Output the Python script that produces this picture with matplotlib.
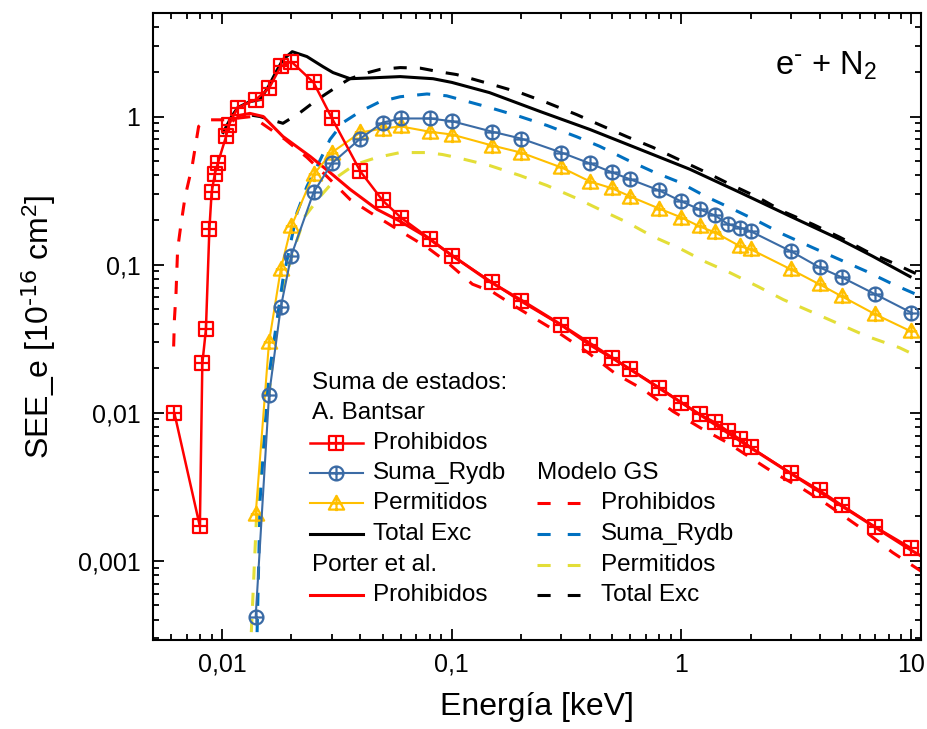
import matplotlib
matplotlib.use("Agg")
import matplotlib.pyplot as plt
from matplotlib.path import Path
from matplotlib.ticker import FixedLocator, LogLocator, FuncFormatter, NullFormatter

plt.rcParams.update({
    "font.family": ["Liberation Sans", "DejaVu Sans"],
    "mathtext.default": "regular",
    "axes.linewidth": 1.5,
})

# ---- data ----
# A. Bantsar, Prohibidos (red squares)
ban_pro_e = [0.0062, 0.0080, 0.0082, 0.0085, 0.0088, 0.0090, 0.0093, 0.0096, 0.0104, 0.0107,
             0.0117, 0.014, 0.016, 0.018, 0.020, 0.025, 0.030, 0.040, 0.050, 0.060, 0.080,
             0.100, 0.15, 0.2, 0.3, 0.4, 0.5, 0.6, 0.8, 1.0, 1.2, 1.4, 1.6, 1.8, 2.0, 3, 4, 5, 7, 10]
ban_pro_s = [0.0099, 0.00171, 0.0215, 0.0365, 0.173, 0.307, 0.412, 0.489, 0.733, 0.88,
             1.15, 1.30, 1.55, 2.18, 2.35, 1.70, 0.98, 0.426, 0.271, 0.208, 0.150,
             0.115, 0.0758, 0.0565, 0.0389, 0.0285, 0.0233, 0.0196, 0.0148, 0.0117, 0.00975,
             0.00861, 0.00749, 0.00661, 0.00585, 0.0039, 0.00299, 0.00237, 0.00169, 0.00122]

# A. Bantsar, Suma_Rydb (blue circles)
ban_ryd_e = [0.014, 0.016, 0.018, 0.020, 0.025, 0.030, 0.040, 0.050, 0.060, 0.080, 0.100,
             0.15, 0.2, 0.3, 0.4, 0.5, 0.6, 0.8, 1.0, 1.2, 1.4, 1.6, 1.8, 2.0, 3, 4, 5, 7, 10]
ban_ryd_s = [0.00042, 0.0131, 0.0514, 0.115, 0.307, 0.482, 0.71, 0.91, 0.97, 0.97, 0.93,
             0.79, 0.71, 0.571, 0.482, 0.419, 0.376, 0.317, 0.267, 0.236, 0.215, 0.187, 0.178,
             0.168, 0.123, 0.0957, 0.082, 0.063, 0.0475]

# A. Bantsar, Permitidos (yellow triangles)
ban_per_e = [0.014, 0.016, 0.018, 0.020, 0.025, 0.030, 0.040, 0.050, 0.060, 0.080, 0.100,
             0.15, 0.2, 0.3, 0.4, 0.5, 0.6, 0.8, 1.0, 1.2, 1.4, 1.8, 2.0, 3, 4, 5, 7, 10]
ban_per_s = [0.00206, 0.0299, 0.0928, 0.181, 0.406, 0.571, 0.78, 0.83, 0.857, 0.79, 0.756,
             0.637, 0.571, 0.453, 0.364, 0.327, 0.288, 0.239, 0.208, 0.181, 0.165, 0.133,
             0.127, 0.0928, 0.0735, 0.061, 0.0461, 0.0354]

# A. Bantsar, Total Exc (black solid)
ban_tot_e = [0.0101, 0.011, 0.0117, 0.0132, 0.0146, 0.0159, 0.0172, 0.0184, 0.0202, 0.0234,
             0.0275, 0.0304, 0.0361, 0.047, 0.0596, 0.0829, 0.100, 0.146, 0.243, 0.40, 0.66,
             1.09, 1.8, 2.98, 4.9, 6.8, 9.9]
ban_tot_s = [0.78, 1.0, 1.15, 1.26, 1.30, 1.59, 2.01, 2.42, 2.74, 2.54,
             2.17, 1.98, 1.80, 1.83, 1.86, 1.80, 1.70, 1.45, 1.08, 0.817, 0.60,
             0.44, 0.307, 0.212, 0.148, 0.114, 0.083]

# Porter et al., Prohibidos (red solid)
por_e = [0.0112, 0.012, 0.0132, 0.0151, 0.0184, 0.0242, 0.0295, 0.0361, 0.0473, 0.0596,
         0.078, 0.096, 0.146, 0.198, 0.297, 0.5, 1.0, 2.0, 5.0, 10.0, 11.5]
por_s = [0.94, 1.02, 1.05, 1.0, 0.733, 0.537, 0.419, 0.322, 0.236, 0.196,
         0.153, 0.121, 0.077, 0.0583, 0.0396, 0.0235, 0.0117, 0.0058, 0.00234, 0.00118, 0.00104]

# Modelo GS (dashed)
gs_pro_e = [0.00615, 0.0062, 0.0063, 0.0064, 0.0066, 0.0069, 0.0074, 0.0079, 0.0087, 0.0095,
            0.0105, 0.012, 0.0135, 0.0188, 0.0234, 0.0286, 0.0361, 0.0441, 0.061, 0.078, 0.096,
            0.123, 0.151, 0.198, 0.29, 0.39, 0.52, 0.68, 0.92, 1.24, 1.58, 2.5, 3.4, 4.3, 5.9,
            8.3, 11.2]
gs_pro_s = [0.028, 0.043, 0.065, 0.127, 0.181, 0.288, 0.46, 0.857, 0.95, 0.95,
            0.95, 0.98, 1.0, 0.70, 0.53, 0.394, 0.275, 0.225, 0.165, 0.131, 0.103,
            0.0738, 0.0652, 0.0499, 0.0349, 0.0256, 0.0182, 0.0144, 0.0102, 0.00773, 0.0063,
            0.00397, 0.00304, 0.00241, 0.00171, 0.00114, 0.00084]

gs_ryd_e = [0.0142, 0.01464, 0.0159, 0.0184, 0.0212, 0.0234, 0.0259, 0.0295, 0.0336, 0.0399,
            0.0487, 0.0596, 0.078, 0.095, 0.146, 0.198, 0.26, 0.35, 0.44, 0.58, 0.75, 0.98,
            1.28, 1.62, 2.16, 2.78, 3.74, 4.9, 6.4, 8.3, 11.2]
gs_ryd_s = [0.00033, 0.0026, 0.0168, 0.0794, 0.225, 0.337, 0.46, 0.70, 0.91, 1.08,
            1.26, 1.36, 1.42, 1.38, 1.15, 1.0, 0.87, 0.73, 0.63, 0.51, 0.425, 0.36,
            0.288, 0.243, 0.196, 0.160, 0.130, 0.108, 0.090, 0.074, 0.0604]

gs_per_e = [0.0134, 0.0141, 0.0157, 0.0174, 0.0182, 0.0202, 0.0229, 0.0267, 0.0319, 0.0379,
            0.0472, 0.0596, 0.078, 0.091, 0.105, 0.146, 0.198, 0.26, 0.35, 0.44, 0.58, 0.75,
            0.98, 1.28, 1.62, 2.16, 2.78, 3.74, 4.9, 6.4, 8.9, 11.0]
gs_per_s = [0.00033, 0.0019, 0.0105, 0.0407, 0.065, 0.117, 0.211, 0.288, 0.394, 0.474,
            0.529, 0.571, 0.571, 0.554, 0.529, 0.467, 0.40, 0.342, 0.28, 0.236, 0.193, 0.155,
            0.129, 0.104, 0.0885, 0.071, 0.058, 0.0475, 0.0395, 0.0329, 0.0275, 0.0235]

gs_tot_e = [0.0135, 0.0146, 0.0184, 0.0218, 0.0249, 0.0281, 0.0326, 0.036, 0.0432, 0.0487,
            0.0596, 0.073, 0.089, 0.105, 0.151, 0.198, 0.26, 0.35, 0.44, 0.58, 0.75, 0.98,
            1.28, 1.62, 2.16, 2.78, 3.74, 4.9, 6.4, 8.3, 11.2]
gs_tot_s = [1.02, 1.0, 0.9, 1.06, 1.24, 1.41, 1.64, 1.80, 1.98, 2.08,
            2.14, 2.12, 2.0, 1.92, 1.64, 1.45, 1.24, 1.03, 0.88, 0.73, 0.62, 0.51,
            0.42, 0.35, 0.284, 0.228, 0.187, 0.153, 0.123, 0.103, 0.083]

x_ticks = [0.01, 0.1, 1, 10]
x_ticklabels = ["0,01", "0,1", "1", "10"]
y_ticks = [0.001, 0.01, 0.1, 1]
y_ticklabels = ["0,001", "0,01", "0,1", "1"]

# ---- styles ----
RED = "#FF0000"
BLUE = "#3B6BA5"
YEL = "#FFBF00"
BLUE_D = "#0070C0"
YEL_D = "#E3DE38"
FS = 17.5
DASH = (0, (4.3, 4.3))

# boxed-plus style markers
M, L, C = Path.MOVETO, Path.LINETO, Path.CLOSEPOLY
cross = Path([(0, -1), (0, 1), (-1, 0), (1, 0)], [M, L, M, L])
sq_plus = Path.make_compound_path(
    Path([(-1, -1), (1, -1), (1, 1), (-1, 1), (-1, -1)], [M, L, L, L, C]), cross)
circ_plus = Path.make_compound_path(Path.unit_circle(), cross)
tri_plus = Path.make_compound_path(
    Path([(0, 1), (-1, -0.8), (1, -0.8), (0, 1)], [M, L, L, C]),
    Path([(0, 1), (0, -1), (-0.75, 0), (0.75, 0)], [M, L, M, L]))

fig = plt.figure(figsize=(9.28, 7.29), dpi=100)
ax = fig.add_axes([153 / 928, 1 - 640 / 729, 768 / 928, 627 / 729])

sq_kw = dict(color=RED, lw=1.8, marker=sq_plus, ms=9.5, mfc="none", mew=1.6)
ci_kw = dict(color=BLUE, lw=1.5, marker=circ_plus, ms=10, mfc="none", mew=1.6)
tr_kw = dict(color=YEL, lw=1.5, marker=tri_plus, ms=11, mfc="none", mew=1.6)
tot_kw = dict(color="black", lw=2.2)
por_kw = dict(color=RED, lw=2.2)
gpro_kw = dict(color=RED, lw=2.2, ls=DASH)
gryd_kw = dict(color=BLUE_D, lw=2.2, ls=DASH)
gper_kw = dict(color=YEL_D, lw=2.2, ls=DASH)
gtot_kw = dict(color="black", lw=2.2, ls=DASH)

ax.plot(gs_per_e, gs_per_s, **gper_kw)
ax.plot(gs_ryd_e, gs_ryd_s, **gryd_kw)
ax.plot(gs_tot_e, gs_tot_s, **gtot_kw)
ax.plot(gs_pro_e, gs_pro_s, **gpro_kw)
ax.plot(por_e, por_s, **por_kw)
ax.plot(ban_tot_e, ban_tot_s, **tot_kw)
ax.plot(ban_per_e, ban_per_s, **tr_kw)
ax.plot(ban_ryd_e, ban_ryd_s, **ci_kw)
ax.plot(ban_pro_e, ban_pro_s, **sq_kw)

ax.set_xscale("log")
ax.set_yscale("log")
ax.set_xlim(0.005, 11.05)
ax.set_ylim(2.92e-4, 5.0)

ax.xaxis.set_major_locator(FixedLocator(x_ticks))
ax.xaxis.set_major_formatter(FuncFormatter(lambda v, p: dict(zip(x_ticks, x_ticklabels)).get(v, "")))
ax.yaxis.set_major_locator(FixedLocator(y_ticks))
ax.yaxis.set_major_formatter(FuncFormatter(lambda v, p: dict(zip(y_ticks, y_ticklabels)).get(v, "")))
for axis in (ax.xaxis, ax.yaxis):
    axis.set_minor_locator(LogLocator(base=10, subs=range(2, 10), numticks=20))
    axis.set_minor_formatter(NullFormatter())
ax.tick_params(which="both", direction="in", top=True, right=True, width=1.3, labelsize=18)
ax.tick_params(which="major", length=8, pad=9)
ax.tick_params(which="minor", length=4)

ax.set_xlabel("Energía [keV]", fontsize=23, labelpad=11)
ax.set_ylabel(r"SEE_e [10$^{\text{-16}}$ cm$^{2}$]", fontsize=23, labelpad=14)

ax.text(0.81, 0.901, r"e$^{\text{-}}$ + N$_{2}$", transform=ax.transAxes, fontsize=23.5,
        ha="left", va="baseline")

# ---- legend, drawn by hand in axes fraction ----
def legend_line(x0, x1, y, label, tx, kw, marker=None):
    style = {k: v for k, v in kw.items() if k not in ("marker", "ms", "mfc", "mew")}
    if style.get("ls") == DASH:
        style["ls"] = (0, (4.3, 5.6))
    ax.plot([x0, x1], [y, y], transform=ax.transAxes, clip_on=False, **style)
    if marker is not None:
        ax.plot([(x0 + x1) / 2], [y], transform=ax.transAxes, clip_on=False, ls="none",
                color=kw["color"], marker=kw["marker"], ms=kw["ms"], mfc="none", mew=kw["mew"])
    ax.text(tx, y, label, transform=ax.transAxes, fontsize=FS, ha="left", va="center")

rows = [0.4099, 0.362, 0.3142, 0.2663, 0.2185, 0.1691, 0.1196, 0.0718]
lx0, lx1, ltx = 0.2044, 0.2734, 0.2865
ax.text(0.207, rows[0], "Suma de estados:", transform=ax.transAxes, fontsize=FS, va="center")
ax.text(0.207, rows[1], "A. Bantsar", transform=ax.transAxes, fontsize=FS, va="center")
legend_line(lx0, lx1, rows[2], "Prohibidos", ltx, sq_kw, marker=True)
legend_line(lx0, lx1, rows[3], "Suma_Rydb", ltx, ci_kw, marker=True)
legend_line(lx0, lx1, rows[4], "Permitidos", ltx, tr_kw, marker=True)
legend_line(lx0, lx1, rows[5], "Total Exc", ltx, tot_kw)
ax.text(0.207, rows[6], "Porter et al.", transform=ax.transAxes, fontsize=FS, va="center")
legend_line(lx0, lx1, rows[7], "Prohibidos", ltx, por_kw)

rx0, rx1, rtx = 0.500, 0.556, 0.5833
ax.text(rx0, rows[3], "Modelo GS", transform=ax.transAxes, fontsize=FS, va="center")
legend_line(rx0, rx1, rows[4], "Prohibidos", rtx, gpro_kw)
legend_line(rx0, rx1, rows[5], "Suma_Rydb", rtx, gryd_kw)
legend_line(rx0, rx1, rows[6], "Permitidos", rtx, gper_kw)
legend_line(rx0, rx1, rows[7], "Total Exc", rtx, gtot_kw)

fig.savefig("out.png", dpi=100)
